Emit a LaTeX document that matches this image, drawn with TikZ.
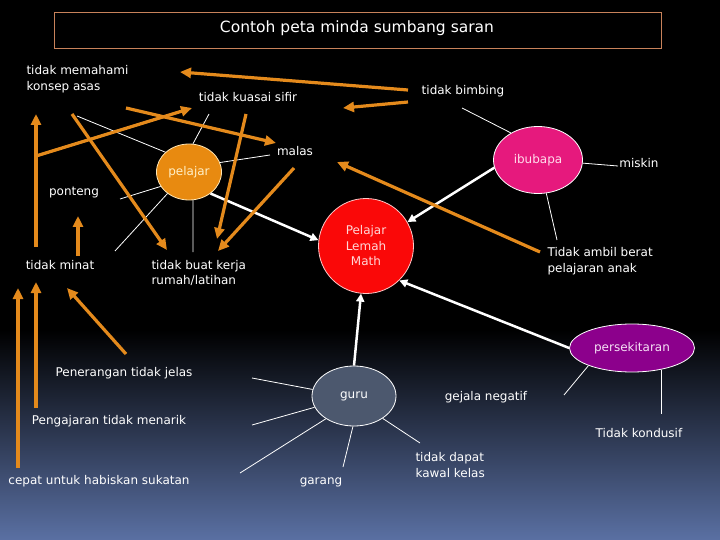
\documentclass[tikz,border=0pt]{standalone}
\usepackage{fontspec}
\setmainfont{DejaVu Sans}
\usepackage{xcolor}
\usepackage{tikz}
\usetikzlibrary{arrows.meta,shapes.geometric}

\definecolor{oren}{RGB}{228,138,28}
\definecolor{bgblue}{RGB}{90,112,163}
\definecolor{tajuk}{RGB}{200,130,90}
\definecolor{cpelajar}{RGB}{232,138,16}
\definecolor{cibubapa}{RGB}{230,25,125}
\definecolor{cmath}{RGB}{250,8,8}
\definecolor{cpersek}{RGB}{140,0,140}
\definecolor{cguru}{RGB}{76,88,110}

\begin{document}
\begin{tikzpicture}[x=1pt,y=-1pt,
    every node/.style={font=\fontsize{12}{15.5}\selectfont,text=white},
    bubble/.style={ellipse,draw=white,line width=0.8pt,inner sep=0pt},
    sebab/.style={draw=oren,line width=3.2pt,-{Triangle[length=11pt,width=10pt]}},
    kesan/.style={draw=white,line width=2.5pt,-{Triangle[length=8pt,width=8pt]}},
    ranting/.style={draw=white,line width=0.8pt}]
  \useasboundingbox (0,0) rectangle (720,540);
  % background: black, fading to blue at the bottom
  \fill[black] (0,0) rectangle (720,540);
  \shade[top color=black,bottom color=bgblue] (0,330) rectangle (720,540);

  % title
  \draw[tajuk,line width=0.8pt] (54,12) rectangle (661,48);
  \node (title) at (357,28) {\fontsize{15.5}{18}\selectfont Contoh peta minda sumbang saran};

  % main bubbles
  \node[bubble,fill=cpelajar,draw={rgb,255:red,255;green,230;blue,180},
        minimum width=65pt,minimum height=56pt,text={rgb,255:red,255;green,240;blue,200}]
        (pelajar) at (189,172) {pelajar};
  \node[bubble,fill=cibubapa,minimum width=89pt,minimum height=67pt,
        text={rgb,255:red,255;green,220;blue,235}] (ibubapa) at (538,160) {ibubapa};
  \node[circle,draw={rgb,255:red,255;green,200;blue,200},line width=0.8pt,inner sep=0pt,
        fill=cmath,minimum size=95pt,align=center,
        text={rgb,255:red,255;green,215;blue,215}] (math) at (366,246) {Pelajar\\Lemah\\Math};
  \node[bubble,fill=cpersek,minimum width=125pt,minimum height=48pt,
        text={rgb,255:red,245;green,225;blue,245}] (persek) at (632,348) {persekitaran};
  \node[bubble,fill=cguru,minimum width=84pt,minimum height=60pt] (guru) at (354,396) {guru};

  % labels
  \node[anchor=west,align=left] (memahami) at (23,79) {tidak memahami\\konsep asas};
  \node (sifir) at (248,97) {tidak kuasai sifir};
  \node (bimbing) at (463,91) {tidak bimbing};
  \node (malas) at (295,151) {malas};
  \node (miskin) at (639,163) {miskin};
  \node (ponteng) at (74,193) {ponteng};
  \node (minat) at (60,265) {tidak minat};
  \node[anchor=west,align=left] (kerja) at (148,273) {tidak buat kerja\\rumah/latihan};
  \node[anchor=west,align=left] (berat) at (544,261) {Tidak ambil berat\\pelajaran anak};
  \node (jelas) at (124,373) {Penerangan tidak jelas};
  \node (menarik) at (109,421) {Pengajaran tidak menarik};
  \node (sukatan) at (99,481) {cepat untuk habiskan sukatan};
  \node (garang) at (321,482) {garang};
  \node[anchor=west,align=left] (kawal) at (412,465) {tidak dapat\\kawal kelas};
  \node (gejala) at (486,397) {gejala negatif};
  \node (kondusif) at (639,433) {Tidak kondusif};

  % free ends of the thin branches
  \coordinate (b-memahami) at (77,116);
  \coordinate (b-sifir) at (209,114);
  \coordinate (b-malas) at (270,155);
  \coordinate (b-ponteng) at (120,199);
  \coordinate (b-minat) at (115,251);
  \coordinate (b-kerja) at (193,252);
  \coordinate (b-bimbing) at (462,108);
  \coordinate (b-miskin) at (618,166);
  \coordinate (b-berat) at (557,240);
  \coordinate (b-gejala) at (564,395);
  \coordinate (b-kondusif) at (661,414);
  \coordinate (b-jelas) at (252,378);
  \coordinate (b-menarik) at (252,425);
  \coordinate (b-sukatan) at (240,473);
  \coordinate (b-garang) at (343,467);
  \coordinate (b-kawal) at (420,443);

  % thin branches
  \draw[ranting] (pelajar.140) -- (b-memahami);
  \draw[ranting] (pelajar.82) -- (b-sifir);
  \draw[ranting] (pelajar.17) -- (b-malas);
  \draw[ranting] (pelajar.207) -- (b-ponteng);
  \draw[ranting] (pelajar.225) -- (b-minat);
  \draw[ranting] (pelajar.278) -- (b-kerja);
  \draw[ranting] (ibubapa.135) -- (b-bimbing);
  \draw[ranting] (ibubapa.356) -- (b-miskin);
  \draw[ranting] (ibubapa.284) -- (b-berat);
  \draw[ranting] (persek.202) -- (b-gejala);
  \draw[ranting] (b-kondusif |- persek.324) -- (b-kondusif);
  \draw[ranting] (guru.171) -- (b-jelas);
  \draw[ranting] (guru.196) -- (b-menarik);
  \draw[ranting] (guru.219) -- (b-sukatan);
  \draw[ranting] (guru.268) -- (b-garang);
  \draw[ranting] (guru.322) -- (b-kawal);

  % thick white arrows into the centre
  \draw[kesan] (pelajar.315) -- (math.173);
  \draw[kesan] (ibubapa.190) -- (math.30);
  \draw[kesan] (persek.180) -- (math.314);
  \draw[kesan] (guru.90) -- (math.264);

  % ends of the orange arrows
  \coordinate (o1a) at (408,90);   \coordinate (o1b) at (180,72);
  \coordinate (o2a) at (408,102);  \coordinate (o2b) at (343,108);
  \coordinate (o3a) at (36,156);   \coordinate (o3b) at (192,108);
  \coordinate (o4a) at (36,247);   \coordinate (o4b) at (36,114);
  \coordinate (o5a) at (126,108);  \coordinate (o5b) at (276,143);
  \coordinate (o6a) at (72,114);   \coordinate (o6b) at (167,250);
  \coordinate (o7a) at (246,114);  \coordinate (o7b) at (217,239);
  \coordinate (o8a) at (294,168);  \coordinate (o8b) at (218,251);
  \coordinate (o9a) at (78,256);   \coordinate (o9b) at (78,216);
  \coordinate (o10a) at (540,252); \coordinate (o10b) at (337,162);
  \coordinate (o11a) at (18,468);  \coordinate (o11b) at (18,288);
  \coordinate (o12a) at (36,408);  \coordinate (o12b) at (36,282);
  \coordinate (o13a) at (126,354); \coordinate (o13b) at (67,288);

  % orange arrows
  \foreach \k in {1,...,13}
    \draw[sebab] (o\k a) -- (o\k b);
\end{tikzpicture}
\end{document}
